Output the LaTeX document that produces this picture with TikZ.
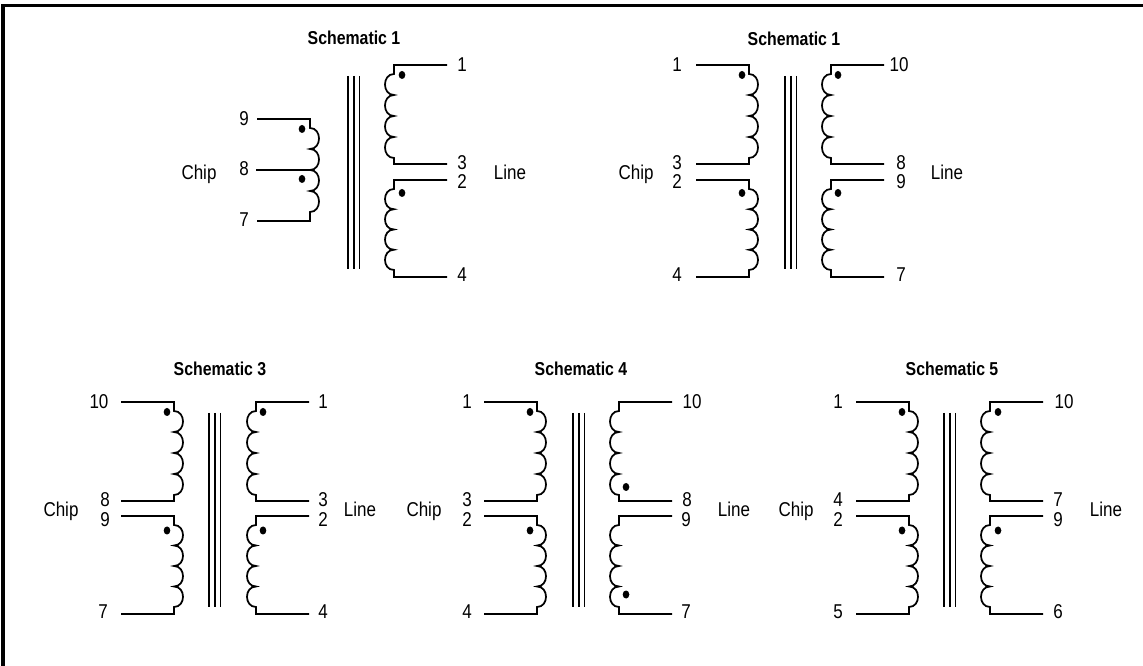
\documentclass[tikz,border=0pt]{standalone}
\usepackage{fontspec}
\setmainfont[FakeStretch=0.85]{Liberation Sans}
\usetikzlibrary{shapes.geometric, calc}

\tikzset{
  wire/.style={line width=1.3pt, line join=miter},
  core/.style={line width=1.15pt},
  frame/.style={line width=2.5pt},
  dot/.style={ellipse, fill=black, inner sep=0pt, minimum width=5pt, minimum height=6pt},
  pin/.style={inner sep=0pt, text depth=0pt, font=\fontsize{15}{16}\selectfont},
  heading/.style={inner sep=0pt, text depth=0pt, font=\fontsize{14}{15}\selectfont\bfseries},
}

% one winding: [tail]{name}{x}{y top}{y bottom}{lead side}
\newcommand{\winding}[6][7]{
  \coordinate (#2t) at (#3,#4);
  \coordinate (#2b) at (#3,#5);
  \coordinate (#2a) at ($(#3,#4)+(#6*53,0)$);
  \coordinate (#2c) at ($(#3,#5)+(#6*53,0)$);
  \pgfmathsetmacro{\coilh}{(#5-#1-#4-9)/4}
  \draw[wire] (#2a) -- (#2t) -- ++(0,9) foreach \k in {1,...,4} {
    .. controls +(-#6*12,0) and +(-#6*12,0) .. ++(0,\coilh)
  } -- (#2b) -- (#2c);
}
% three core lines: {x}{y top}
\newcommand{\corelines}[2]{
  \foreach \c in {0,5.8,11.6} {
    \draw[core] (#1+\c,#2) -- (#1+\c,#2+193.5);
  }
}

\begin{document}
\begin{tikzpicture}[x=0.75pt, y=-0.75pt]
\useasboundingbox (0,0) rectangle (1143,666);

% FRAME
\coordinate (fB) at (3,666);
\coordinate (fC) at (3,5.5);
\coordinate (fR) at (1143,5.5);
\draw[frame] (fB) -- (fC) -- (fR);

% TITLES
\node[heading] (titleA) at (354,38) {Schematic 1};
\node[heading] (titleB) at (794,39) {Schematic 1};
\node[heading] (titleC) at (220,369) {Schematic 3};
\node[heading] (titleD) at (581,369) {Schematic 4};
\node[heading] (titleE) at (952,369) {Schematic 5};

% CHIP & LINE
\foreach \nm/\px/\py/\txt in {
  chipA/199/172/Chip, lineA/510/172/Line,
  chipB/636/172/Chip, lineB/947/172/Line,
  chipC/61/509/Chip, lineC/360/509/Line,
  chipD/424/509/Chip, lineD/734/509/Line,
  chipE/796/509/Chip, lineE/1106/509/Line} {
  \node[pin] (\nm) at (\px,\py) {\txt};
}

% PIN NUMBERS
\foreach \nm/\px/\py/\txt in {
  a9/244/119/9, a8/244/169/8, a7/244/220/7,
  a1/462/65/1, a3/462/163/3, a2/462/182/2, a4/462/275/4,
  b1/677/65/1, b3/677/163/3, b2/677/182/2, b4/677/275/4,
  b10/899/65/10, b8/901/163/8, b9/901/182/9, b7/901/275/7,
  c10/99/402/10, c8/105/500/8, c9/105/520/9, c7/103/612/7,
  c1/323/402/1, c3/323/500/3, c2/323/520/2, c4/323/612/4,
  d1/467/402/1, d3/467/500/3, d2/467/520/2, d4/467/612/4,
  d10/692/402/10, d8/687/500/8, d9/686/520/9, d7/686/612/7,
  e1/838/402/1, e4/838/500/4, e2/838/520/2, e5/838/612/5,
  e10/1064/402/10, e7/1058/500/7, e9/1058/520/9, e6/1058/612/6} {
  \node[pin] (\nm) at (\px,\py) {\txt};
}

% SCHEMATIC 1 (left)
\winding[9]{wA}{310}{119}{221}{-1}
\coordinate (tapA) at (256,170);
\coordinate (tapAr) at (310,170);
\draw[wire] (tapA) -- (tapAr);
\corelines{348}{76}
\winding[6]{wB}{394}{65}{164}{1}
\winding{wC}{394}{180}{277}{1}
\node[dot] (dA1) at (302,129) {};
\node[dot] (dA2) at (302,179) {};
\node[dot] (dA3) at (402,75) {};
\node[dot] (dA4) at (402,193) {};

% SCHEMATIC 1 (right)
\winding[6]{wD}{749}{65}{164}{-1}
\winding{wE}{749}{180}{277}{-1}
\corelines{785}{76}
\winding[6]{wF}{831}{65}{164}{1}
\winding{wG}{831}{180}{277}{1}
\node[dot] (dB1) at (742,75) {};
\node[dot] (dB2) at (742,193) {};
\node[dot] (dB3) at (838,75) {};
\node[dot] (dB4) at (838,193) {};

% SCHEMATIC 3
\winding[6]{wH}{174}{402}{501}{-1}
\winding{wI}{174}{516}{614}{-1}
\corelines{209}{413}
\winding[6]{wJ}{256}{402}{501}{1}
\winding{wK}{256}{516}{614}{1}
\node[dot] (dC1) at (167,412) {};
\node[dot] (dC2) at (167,530.5) {};
\node[dot] (dC3) at (263,412) {};
\node[dot] (dC4) at (263,530.5) {};

% SCHEMATIC 4
\winding[6]{wL}{537}{402}{501}{-1}
\winding{wM}{537}{516}{614}{-1}
\corelines{573}{413}
\winding[6]{wN}{619}{402}{501}{1}
\winding{wO}{619}{516}{614}{1}
\node[dot] (dD1) at (530,412) {};
\node[dot] (dD2) at (530,530.5) {};
\node[dot] (dD3) at (626,487) {};
\node[dot] (dD4) at (626,594.5) {};

% SCHEMATIC 5
\winding[6]{wP}{909}{402}{501}{-1}
\winding{wQ}{909}{516}{614}{-1}
\corelines{944}{413}
\winding[6]{wR}{990}{402}{501}{1}
\winding{wS}{990}{516}{614}{1}
\node[dot] (dE1) at (902,412) {};
\node[dot] (dE2) at (902,530.5) {};
\node[dot] (dE3) at (998,412) {};
\node[dot] (dE4) at (998,530.5) {};

\end{tikzpicture}
\end{document}
